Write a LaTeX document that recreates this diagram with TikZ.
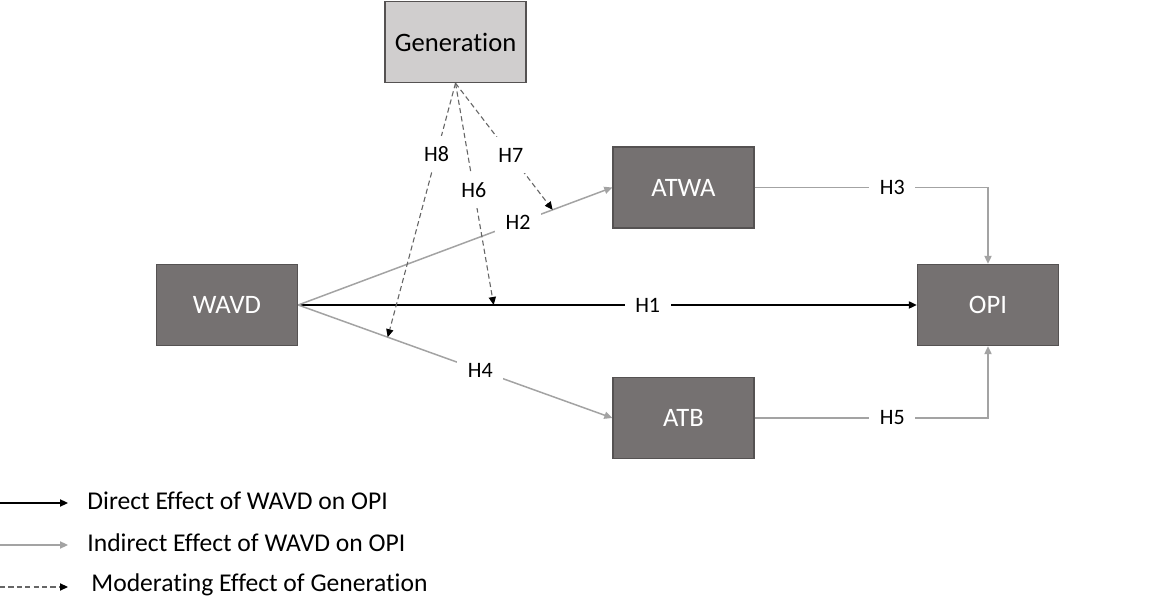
\documentclass[tikz,border=0pt]{standalone}
\usepackage{fontspec}
\setmainfont{Carlito}[Ligatures=NoCommon]
\usetikzlibrary{
  arrows.meta,
  positioning,
  calc
}
\definecolor{gnBox}{HTML}{757171}
\definecolor{gnEdge}{HTML}{555252}
\definecolor{gnLight}{HTML}{D0CECE}
\definecolor{gnLine}{HTML}{A3A3A3}
\definecolor{gnDash}{HTML}{666666}
\tikzset{
  gnnode/.style={
    draw=gnEdge, line width=0.7pt, minimum width=70.5pt, minimum height=40.5pt,
    inner sep=0pt, font=\fontsize{13.3}{16}\selectfont
  },
  varbox/.style={gnnode, fill=gnBox, text=white},
  modbox/.style={gnnode, fill=gnLight, text=black},
  tip/.style={-{Triangle[length=4pt, width=3.6pt]}},
  direct/.style={tip, line width=0.75pt, black},
  indirect/.style={tip, line width=0.75pt, gnLine},
  moderate/.style={-{Triangle[length=4pt, width=3.6pt, color=black]}, line width=0.55pt,
    gnDash, dash pattern=on 2.6pt off 1.6pt},
  hyp/.style={fill=white, inner sep=0pt, minimum width=23pt, minimum height=18pt,
    font=\fontsize{11}{13}\selectfont, text=black},
  legtext/.style={anchor=base west, inner sep=0pt, font=\fontsize{12.8}{16}\selectfont}
}

\begin{document}
\begin{tikzpicture}[x=0.5pt, y=-0.5pt]
  \useasboundingbox (0,0) rectangle (1173,597);

  \node[modbox] (gen)  at (455.5,42)  {Generation};
  \node[varbox] (wavd) at (227,305)   {WAVD};
  \node[varbox] (atwa) at (683.5,187.5) {ATWA};
  \node[varbox] (atb)  at (683.5,418) {ATB};
  \node[varbox] (opi)  at (988,305)   {OPI};

  % points where the moderation arrows meet the paths
  \path (wavd.east) -- (atwa.west) coordinate[pos=0.81] (m7);
  \path (wavd.east) -- (opi.west)  coordinate[pos=0.316] (m6);
  \path (wavd.east) -- (atb.west)  coordinate[pos=0.285] (m8);

  \draw[direct]   (wavd.east) -- node[hyp, pos=0.565] (h1) {H1} (opi.west);
  \draw[indirect] (wavd.east) -- node[hyp, pos=0.70] (h2) {H2} (atwa.west);
  \draw[indirect] (wavd.east) -- node[hyp, pos=0.58] (h4) {H4} (atb.west);
  \draw[indirect] (atwa.east) -| node[hyp, pos=0.295] (h3) {H3} (opi.north);
  \draw[indirect] (atb.east)  -| node[hyp, pos=0.295] (h5) {H5} (opi.south);

  \draw[moderate] (gen.south) -- node[hyp, pos=0.28] (h8) {H8} (m8);
  \draw[moderate] (gen.south) -- node[hyp, pos=0.48] (h6) {H6} (m6);
  \draw[moderate] (gen.south) -- node[hyp, pos=0.57] (h7) {H7} (m7);

  % legend
  \coordinate (la) at (0,503);  \coordinate (lb) at (68,503);
  \coordinate (lc) at (0,545);  \coordinate (ld) at (68,545);
  \coordinate (le) at (0,587);  \coordinate (lf) at (68,587);
  \draw[direct]   (la) -- (lb);
  \draw[indirect] (lc) -- (ld);
  \draw[moderate] (le) -- (lf);
  \node[legtext] (lg1) at (87,510) {Direct Effect of WAVD on OPI};
  \node[legtext] (lg2) at (87,552) {Indirect Effect of WAVD on OPI};
  \node[legtext] (lg3) at (91,592) {Moderating Effect of Generation};
\end{tikzpicture}
\end{document}
